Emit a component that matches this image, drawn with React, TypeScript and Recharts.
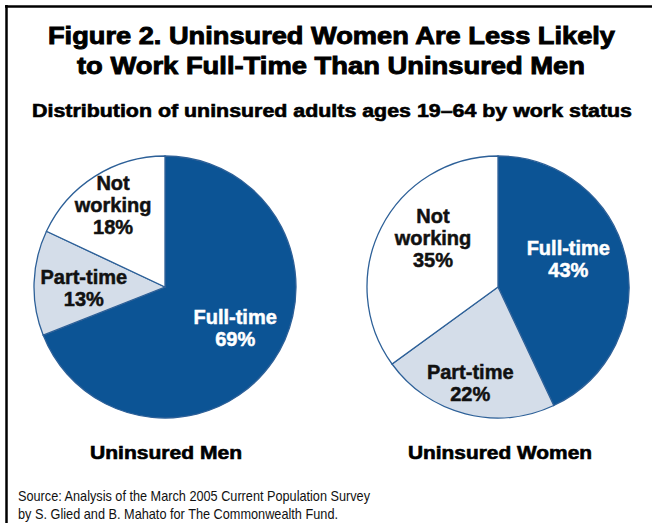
import React from 'react';
import { PieChart, Pie, Cell } from 'recharts';

const categories = ['Full-time', 'Part-time', 'Not working'];
const menValues = [69, 13, 18];
const womenValues = [43, 22, 35];
const groupLabels = ['Uninsured Men', 'Uninsured Women'];
const titleLines = [
  'Figure 2. Uninsured Women Are Less Likely',
  'to Work Full-Time Than Uninsured Men',
];
const subtitle = 'Distribution of uninsured adults ages 19\u201364 by work status';
const sourceLines = [
  'Source: Analysis of the March 2005 Current Population Survey',
  'by S. Glied and B. Mahato for The Commonwealth Fund.',
];

const menData = categories.map((c, i) => ({ name: c, value: menValues[i] }));
const womenData = categories.map((c, i) => ({ name: c, value: womenValues[i] }));

const FILLS = ['#0c5495', '#d4dde9', '#ffffff'];
const TEXT_FILLS = ['#ffffff', '#111111', '#111111'];
const STROKE = '#2d6098';
const FONT = '"Liberation Sans", Arial, Helvetica, sans-serif';
const RAD = Math.PI / 180;

type LabelLayout = { frac: number; dx: number; dy: number };
const menLayout: LabelLayout[] = [
  { frac: 0.62, dx: 3, dy: -5 },
  { frac: 0.62, dx: 0, dy: 4 },
  { frac: 0.74, dx: 0, dy: 0 },
];
const womenLayout: LabelLayout[] = [
  { frac: 0.55, dx: 0, dy: -12 },
  { frac: 0.76, dx: -3, dy: 0 },
  { frac: 0.6, dx: 5, dy: -13 },
];

const labelLinesFor = (name: string, value: number): string[] => {
  if (name === 'Not working') return ['Not', 'working', `${value}%`];
  return [name, `${value}%`];
};

const makeLabel = (layout: LabelLayout[]) => (props: any) => {
  const { cx, cy, midAngle, outerRadius, index, name, value } = props;
  const l = layout[index];
  const r = outerRadius * l.frac;
  const x = cx + r * Math.cos(-midAngle * RAD) + l.dx;
  const y = cy + r * Math.sin(-midAngle * RAD) + l.dy;
  const lines = labelLinesFor(name, value);
  const lh = 22;
  const start = y - ((lines.length - 1) * lh) / 2;
  return (
    <text
      key={`lbl-${index}`}
      textAnchor="middle"
      fill={TEXT_FILLS[index]}
      stroke={TEXT_FILLS[index]}
      strokeWidth={0.5}
      fontFamily={FONT}
      fontWeight="bold"
      fontSize={20}
    >
      {lines.map((t, i) => (
        <tspan key={i} x={x} y={start + i * lh} dy="0.35em">
          {t}
        </tspan>
      ))}
    </text>
  );
};

export default function App() {
  return (
    <div style={{ position: 'relative', width: 652, height: 523, background: '#fff', overflow: 'hidden' }}>
      <style>{'body{margin:0;background:#fff;}'}</style>
      <div style={{ position: 'absolute', left: 0, top: 0 }}>
        <PieChart width={652} height={523} margin={{ top: 0, right: 0, bottom: 0, left: 0 }}>
          <Pie
            data={menData}
            dataKey="value"
            nameKey="name"
            cx={165}
            cy={287}
            outerRadius={131}
            startAngle={90}
            endAngle={-270}
            stroke={STROKE}
            strokeWidth={1.3}
            label={makeLabel(menLayout)}
            labelLine={false}
            isAnimationActive={false}
          >
            {menData.map((d, i) => (
              <Cell key={d.name} fill={FILLS[i]} />
            ))}
          </Pie>
          <Pie
            data={womenData}
            dataKey="value"
            nameKey="name"
            cx={498}
            cy={287}
            outerRadius={131}
            startAngle={90}
            endAngle={-270}
            stroke={STROKE}
            strokeWidth={1.3}
            label={makeLabel(womenLayout)}
            labelLine={false}
            isAnimationActive={false}
          >
            {womenData.map((d, i) => (
              <Cell key={d.name} fill={FILLS[i]} />
            ))}
          </Pie>
        </PieChart>
      </div>
      <svg
        width={652}
        height={523}
        style={{ position: 'absolute', left: 0, top: 0, pointerEvents: 'none' }}
      >
        <line x1={5} y1={6.5} x2={652} y2={6.5} stroke="#000" strokeWidth={2.5} />
        <line x1={6.5} y1={5} x2={6.5} y2={523} stroke="#000" strokeWidth={2.5} />
        <g fontFamily={FONT} fontWeight="bold" fill="#000" stroke="#000">
          <text x={48} y={44} fontSize={24} strokeWidth={0.9} textLength={567} lengthAdjust="spacingAndGlyphs">
            {titleLines[0]}
          </text>
          <text x={77} y={74} fontSize={24} strokeWidth={0.9} textLength={508} lengthAdjust="spacingAndGlyphs">
            {titleLines[1]}
          </text>
          <text x={32} y={117} fontSize={18} strokeWidth={0.6} textLength={600} lengthAdjust="spacingAndGlyphs">
            {subtitle}
          </text>
          <text x={90} y={459} fontSize={18} strokeWidth={0.6} textLength={152} lengthAdjust="spacingAndGlyphs">
            {groupLabels[0]}
          </text>
          <text x={408} y={459} fontSize={18} strokeWidth={0.6} textLength={184} lengthAdjust="spacingAndGlyphs">
            {groupLabels[1]}
          </text>
        </g>
        <g fontFamily={FONT} fill="#111" fontSize={15}>
          <text x={18} y={501} textLength={352} lengthAdjust="spacingAndGlyphs">
            {sourceLines[0]}
          </text>
          <text x={18} y={519} textLength={320} lengthAdjust="spacingAndGlyphs">
            {sourceLines[1]}
          </text>
        </g>
      </svg>
    </div>
  );
}
